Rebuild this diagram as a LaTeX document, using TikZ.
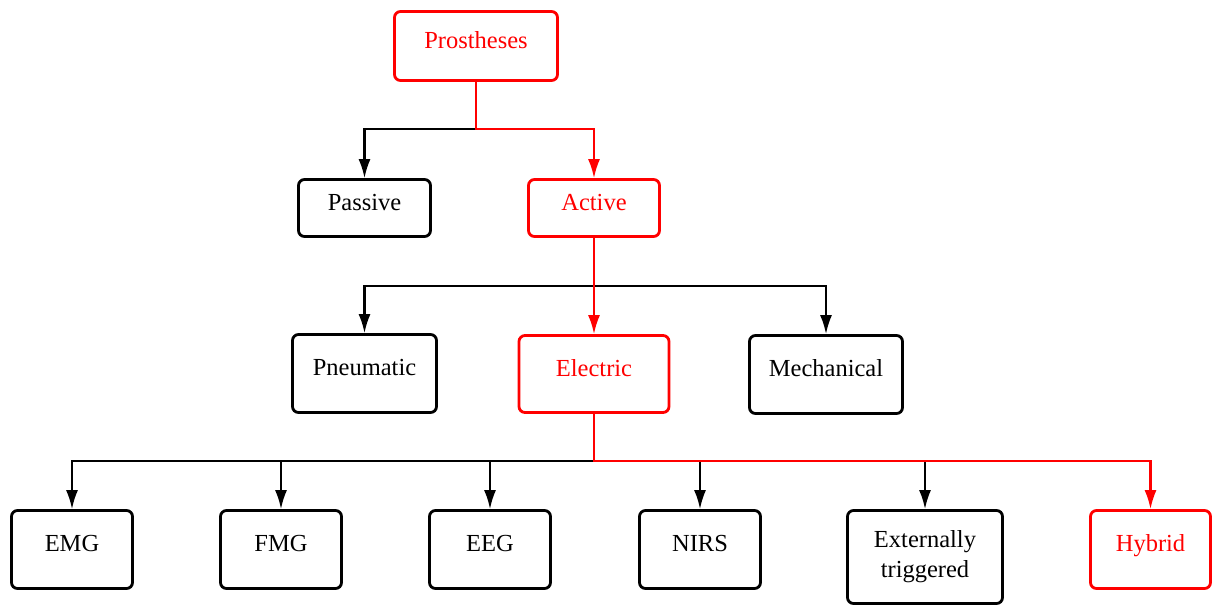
\documentclass[tikz,border=0pt]{standalone}
\usepackage{fontspec}
\setmainfont{Liberation Serif}
\usetikzlibrary{arrows.meta}
\begin{document}
\begin{tikzpicture}[x=1pt,y=-1pt,
  box/.style={draw=black,line width=2.8pt,rounded corners=6pt,align=center,
    font=\fontsize{24.5}{30}\selectfont,inner sep=2pt,text height=0.7em,text depth=0.3em},
  hl/.style={draw=red,text=red},
  conn/.style={line width=2.1pt,-{Latex[length=19pt,width=12pt]}}]
\useasboundingbox (0,0) rectangle (1214,606);
\node[box,hl,minimum width=163pt,minimum height=69pt] (pros) at (476,46) {Prostheses};
\node[box,minimum width=132pt,minimum height=57pt] (pass) at (364.5,208) {Passive};
\node[box,hl,minimum width=131pt,minimum height=57pt] (act) at (594,208) {Active};
\node[box,minimum width=144pt,minimum height=78pt] (pneu) at (364.5,373.5) {Pneumatic};
\node[box,hl,minimum width=150pt,minimum height=77pt] (elec) at (594,374) {Electric};
\node[box,minimum width=153pt,minimum height=78pt] (mech) at (826,374.5) {Mechanical};
\node[box,minimum width=121pt,minimum height=78pt] (emg) at (72,549.5) {EMG};
\node[box,minimum width=121pt,minimum height=78pt] (fmg) at (281,549.5) {FMG};
\node[box,minimum width=121pt,minimum height=78pt] (eeg) at (490,549.5) {EEG};
\node[box,minimum width=121pt,minimum height=78pt] (nirs) at (700,549.5) {NIRS};
\node[box,text height=,text depth=,minimum width=155pt,minimum height=93pt] (ext) at (925,557) {Externally\\triggered};
\node[box,hl,minimum width=120pt,minimum height=78pt] (hyb) at (1150.5,549.5) {Hybrid};
\coordinate (j1) at (476,129);
\coordinate (j2) at (594,286);
\coordinate (j3) at (594,461);
\draw[conn] (j1) -| (pass.north);
\draw[conn,red] (pros.south) -- (j1) -| (act.north);
\draw[conn] (j2) -| (pneu.north);
\draw[conn] (j2) -| (mech.north);
\draw[conn,red] (act.south) -- (elec.north);
\draw[conn] (j3) -| (emg.north);
\draw[conn] (j3) -| (fmg.north);
\draw[conn] (j3) -| (eeg.north);
\draw[conn] (j3) -| (nirs.north);
\draw[conn] (j3) -| (ext.north);
\draw[conn,red] (elec.south) -- (j3) -| (hyb.north);
\end{tikzpicture}
\end{document}
